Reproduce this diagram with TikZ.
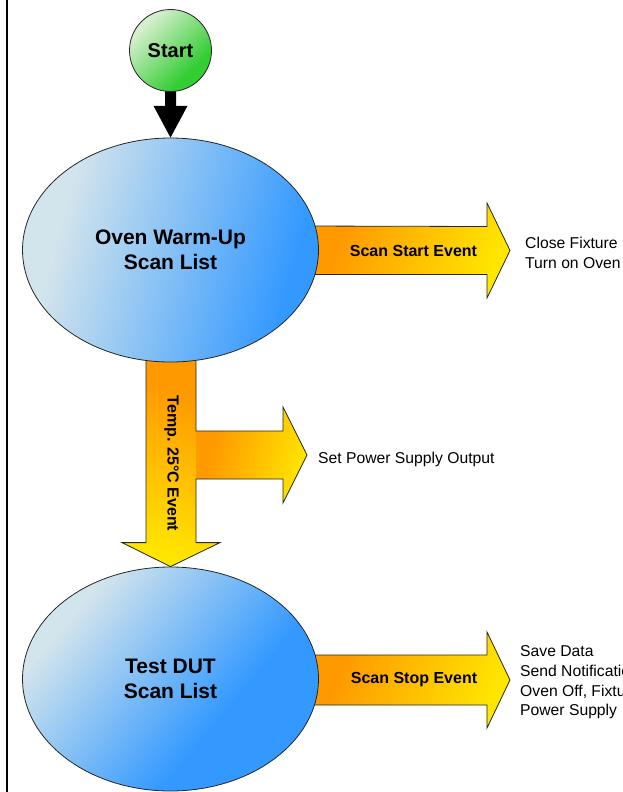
\documentclass[tikz,border=0pt]{standalone}
\usepackage{fontspec}
\setmainfont{Liberation Sans}
\usetikzlibrary{calc,shapes.geometric,backgrounds}
\definecolor{lightblue}{HTML}{D2E4EC}
\definecolor{midblue}{HTML}{3399FF}
\definecolor{orangeA}{HTML}{FF9900}
\definecolor{yellowA}{HTML}{FFE600}
\definecolor{lightgreen}{HTML}{D4EFCC}
\definecolor{greenA}{HTML}{33CC33}
\pgfdeclarehorizontalshading{ellshA}{100bp}{color(0bp)=(lightblue); color(30bp)=(lightblue); color(72bp)=(midblue); color(100bp)=(midblue)}
\pgfdeclarehorizontalshading{ellshB}{100bp}{color(0bp)=(lightblue); color(28bp)=(lightblue); color(62bp)=(midblue); color(100bp)=(midblue)}
\pgfdeclarehorizontalshading{grnsh}{100bp}{color(0bp)=(lightgreen); color(28bp)=(lightgreen); color(68bp)=(greenA); color(100bp)=(greenA)}
\pgfdeclarehorizontalshading{orgsh}{100bp}{color(0bp)=(orangeA); color(32bp)=(orangeA); color(75bp)=(yellowA); color(100bp)=(yellowA)}
\begin{document}
\begin{tikzpicture}[x=1pt,y=-1pt,
  outl/.style={draw=black!85, line width=0.8pt},
  bubble/.style={ellipse, minimum width=296pt, minimum height=224pt, outl, inner sep=0pt,
    align=center, font=\fontsize{21}{24.5}\selectfont\bfseries},
  evlabel/.style={font=\fontsize{16}{19}\selectfont\bfseries, inner sep=0pt},
  note/.style={font=\fontsize{15.7}{20}\selectfont, anchor=base west, inner sep=0pt},
  fatarrow/.style={shading=orgsh}
]
\useasboundingbox (0,0) rectangle (622,792);
\clip (0,0) rectangle (622,792);

% left border line
\draw[line width=2pt] (7,0) -- (7,792);

% main nodes
\node[circle, minimum size=82pt, inner sep=0pt, outl, shading=grnsh, shading angle=-45,
  font=\fontsize{20}{24}\selectfont\bfseries] (start) at (170.5,50.5) {Start};
\node[bubble, shading=ellshA, shading angle=-15] (e1) at (170.5,250) {Oven Warm-Up\\Scan List};
\node[bubble, shading=ellshB, shading angle=-40] (e2) at (170.5,679) {Test DUT\\Scan List};

% free ends of the fat arrows
\coordinate (tipA) at (510,250.5);
\coordinate (tipB) at (307,455);
\coordinate (tipC) at (510,680);

\begin{pgfonlayer}{background}
  % black arrow start -> e1
  \fill[black] ($(start.south)+(-5.5,-2)$) -- ($(start.south)+(5.5,-2)$) -- ($(start.south)+(5.5,14)$)
     -- ($(start.south)+(17,14)$) -- (e1.north) -- ($(start.south)+(-17,14)$)
     -- ($(start.south)+(-5.5,14)$) -- cycle;

  % Scan Start Event arrow
  \path[fatarrow, shading angle=-22, outl]
     ($(e1.east)+(-20,-24)$) -- ($(tipA)+(-23,-24)$) -- ($(tipA)+(-23,-47.5)$) -- (tipA)
     -- ($(tipA)+(-23,47.5)$) -- ($(tipA)+(-23,24)$) -- ($(e1.east)+(-20,24.5)$) -- cycle;

  % Temp. 25C event: branch and shaft
  \path[fatarrow, shading angle=-15]
     (195,431) -- ($(tipB)+(-24,-24)$) -- ($(tipB)+(-24,-48)$) -- (tipB)
     -- ($(tipB)+(-24,48)$) -- ($(tipB)+(-24,24)$) -- (195,479) -- cycle;
  \path[fatarrow, shading angle=-108]
     ($(e1.south)+(-24.5,-10)$) -- ($(e1.south)+(25.5,-10)$) -- ($(e2.north)+(25.5,-24)$)
     -- ($(e2.north)+(49.5,-24)$) -- (e2.north) -- ($(e2.north)+(-48.5,-24)$)
     -- ($(e2.north)+(-24.5,-24)$) -- cycle;
  \draw[outl, line join=miter]
     ($(e1.south)+(-24.5,-10)$) -- ($(e1.south)+(25.5,-10)$) -- (196,431)
     -- ($(tipB)+(-24,-24)$) -- ($(tipB)+(-24,-48)$) -- (tipB)
     -- ($(tipB)+(-24,48)$) -- ($(tipB)+(-24,24)$) -- (196,479)
     -- ($(e2.north)+(25.5,-24)$)
     -- ($(e2.north)+(49.5,-24)$) -- (e2.north) -- ($(e2.north)+(-48.5,-24)$)
     -- ($(e2.north)+(-24.5,-24)$) -- cycle;

  % Scan Stop Event arrow
  \path[fatarrow, shading angle=-22, outl]
     ($(e2.east)+(-20,-24)$) -- ($(tipC)+(-23,-25)$) -- ($(tipC)+(-23,-48)$) -- (tipC)
     -- ($(tipC)+(-23,48)$) -- ($(tipC)+(-23,25)$) -- ($(e2.east)+(-20,26)$) -- cycle;
\end{pgfonlayer}

% arrow labels
\node[evlabel] (lblA) at (413.5,250.5) {Scan Start Event};
\node[evlabel, rotate=-90] (lblB) at (171.5,463.5) {Temp. 25°C Event};
\node[evlabel] (lblC) at (414,680) {Scan Stop Event};

% action notes
\node[note] (nA1) at (525,248) {Close Fixture};
\node[note] (nA2) at (525,268) {Turn on Oven};
\node[note] (nB1) at (318,463) {Set Power Supply Output};
\node[note] (nC1) at (520,656) {Save Data};
\node[note] (nC2) at (520,676) {Send Notification};
\node[note] (nC3) at (520,696) {Oven Off, Fixture Open};
\node[note] (nC4) at (520,715.5) {Power Supply};
\end{tikzpicture}
\end{document}
